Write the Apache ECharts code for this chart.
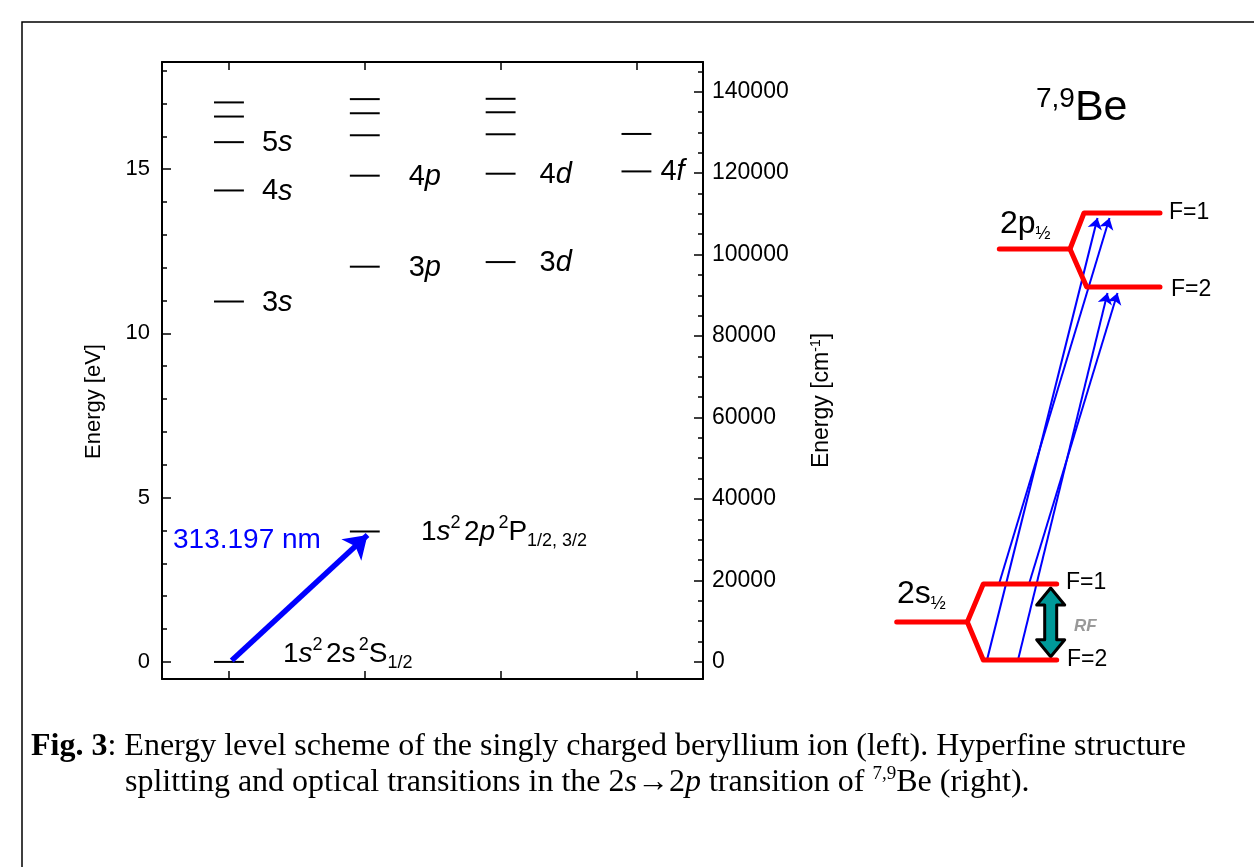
<!DOCTYPE html>
<html>
<head>
<meta charset="utf-8">
<script src="https://cdn.jsdelivr.net/npm/echarts@6/dist/echarts.min.js"></script>
<style>
  html, body {margin: 0; padding: 0; background: #fff;}
  #chart {width: 1254px; height: 867px;}
</style>
</head>
<body>
<div id="chart"></div>
<script>
// level energies (eV) per column
const sLevels = [17.03, 16.60, 15.82, 14.35, 10.97, 0]
const sLabels = ['', '', '5', '4', '3', '']
const pLevels = [17.13, 16.70, 16.03, 14.80, 12.03, 3.97]
const pLabels = ['', '', '', '4', '3', '']
const dLevels = [17.14, 16.73, 16.06, 14.86, 12.17]
const dLabels = ['', '', '', '4', '3']
const fLevels = [16.07, 14.93]
const fLabels = ['', '4']
const columns = ['s', 'p', 'd', 'f']

// 2s -> 2p transition arrow (column, eV)
const laserStart = [1.02, 0.04]
const laserEnd = [2.02, 3.86]

// axis ranges and ticks
const eVmin = -0.52
const eVmax = 18.26
const cmPerEv = 8065.54
const eVLabels = [0, 5, 10, 15]
const cmLabels = [0, 20000, 40000, 60000, 80000, 100000, 120000, 140000]

// hyperfine scheme, schematic units
const s2Stem = [[1.67, 5.8], [8.73, 5.8]]
const s2Fork = [[17.67, 9.6], [10.33, 9.6], [8.73, 5.8], [10.33, 2.0], [17.67, 2.0]]
const p2Stem = [[11.93, 43.1], [19.0, 43.1]]
const p2Fork = [[28.0, 46.7], [20.4, 46.7], [19.0, 43.1], [20.67, 39.3], [28.0, 39.3]]
const transitions = [
  [[10.7, 2.0], [21.75, 46.2]],
  [[11.9, 9.6], [22.95, 46.2]],
  [[13.8, 2.0], [22.75, 38.7]],
  [[14.9, 9.6], [23.75, 38.7]]
]
const rfArrow = [[17.07, 2.33, 9.2]]

const SANS = '"Liberation Sans", Arial, sans-serif'
const SERIF = '"Liberation Serif", "Times New Roman", serif'

let levelData = []
let levelText = []
const addColumn = (col, levels, labels) => {
  for (let i = 0; i < levels.length; i++) {
    levelData.push([col, levels[i]])
    levelText.push(labels[i])
  }
}
addColumn(1, sLevels, sLabels)
addColumn(2, pLevels, pLabels)
addColumn(3, dLevels, dLabels)
addColumn(4, fLevels, fLabels)

const range = (a, b, step) => {
  let out = []
  for (let v = a; v <= b; v += step) out.push(v)
  return out
}

const labelGap = [18, 29, 24, 9]
const halfWidth = 0.11

const renderLevel = (params, api) => {
  const col = api.value(0)
  const e = api.value(1)
  const p1 = api.coord([col - halfWidth, e])
  const p2 = api.coord([col + halfWidth, e])
  let children = [{
    type: 'line',
    shape: {x1: p1[0], y1: p1[1], x2: p2[0], y2: p2[1]},
    style: {stroke: '#000', lineWidth: 2}
  }]
  const num = levelText[params.dataIndex]
  if (num) {
    children.push({
      type: 'text',
      x: p2[0] + labelGap[col - 1],
      y: p2[1] + 1,
      style: {
        text: '{n|' + num + '}{i|' + columns[col - 1] + '}',
        verticalAlign: 'middle',
        rich: {
          n: {fontSize: 29, fontFamily: SANS, fill: '#000'},
          i: {fontSize: 29, fontFamily: SANS, fontStyle: 'italic', fill: '#000'}
        }
      }
    })
  }
  return {type: 'group', children: children}
}

const renderRf = (params, api) => {
  const top = api.coord([api.value(0), api.value(2)])
  const bot = api.coord([api.value(0), api.value(1)])
  const cx = top[0], ty = top[1], by = bot[1]
  const hh = 17, hw = 14, sw = 6
  return {
    type: 'polygon',
    shape: {points: [
      [cx, ty], [cx + hw, ty + hh], [cx + sw, ty + hh], [cx + sw, by - hh], [cx + hw, by - hh],
      [cx, by], [cx - hw, by - hh], [cx - sw, by - hh], [cx - sw, ty + hh], [cx - hw, ty + hh]
    ]},
    style: {fill: '#009999', stroke: '#000', lineWidth: 3, lineJoin: 'round'}
  }
}

const frameLine = {onZero: false, lineStyle: {color: '#000', width: 2}}
const tickStyle = {color: '#000', width: 1.5}

let chart = echarts.init(document.getElementById('chart'))

const redLine = (data) => ({
  type: 'line',
  xAxisIndex: 2,
  yAxisIndex: 4,
  data: data,
  symbol: 'none',
  silent: true,
  lineStyle: {color: '#ff0000', width: 5, cap: 'round', join: 'round'}
})

const termRich = {
  n: {fontSize: 28, fontFamily: SANS, fill: '#000', lineHeight: 36},
  i: {fontSize: 28, fontFamily: SANS, fontStyle: 'italic', fill: '#000', lineHeight: 36},
  sup: {fontSize: 18, fontFamily: SANS, fill: '#000', verticalAlign: 'top', lineHeight: 36, padding: [0, 0, 14, 0]},
  sub: {fontSize: 18, fontFamily: SANS, fill: '#000', verticalAlign: 'bottom', lineHeight: 36, padding: [12, 0, 0, 0]}
}

let option = {
  animation: false,
  backgroundColor: '#fff',
  grid: [
    {left: 162, top: 62, width: 541, height: 617},
    {left: 880, top: 80, width: 360, height: 600}
  ],
  xAxis: [
    {
      gridIndex: 0, type: 'value', min: 0.507, max: 4.49, position: 'bottom',
      axisLine: frameLine,
      axisTick: {inside: true, length: 8, customValues: [1, 2, 3, 4], lineStyle: tickStyle},
      axisLabel: {show: false}, splitLine: {show: false}
    },
    {
      gridIndex: 0, type: 'value', min: 0.507, max: 4.49, position: 'top',
      axisLine: frameLine,
      axisTick: {inside: true, length: 8, customValues: [1, 2, 3, 4], lineStyle: tickStyle},
      axisLabel: {show: false}, splitLine: {show: false}
    },
    {gridIndex: 1, type: 'value', min: 0, max: 36, show: false}
  ],
  yAxis: [
    {
      gridIndex: 0, type: 'value', min: eVmin, max: eVmax, position: 'left',
      axisLine: frameLine,
      axisTick: {inside: true, length: 5, customValues: range(0, 18, 1), lineStyle: tickStyle},
      axisLabel: {customValues: eVLabels, fontSize: 22, fontFamily: SANS, color: '#000', margin: 12},
      splitLine: {show: false},
      name: 'Energy [eV]', nameLocation: 'middle', nameGap: 57,
      nameTextStyle: {fontSize: 22, fontFamily: SANS, color: '#000', padding: [0, 62, 0, 0]}
    },
    {
      gridIndex: 0, type: 'value', min: eVmin, max: eVmax, position: 'left',
      axisLine: {show: false},
      axisTick: {inside: true, length: 9, customValues: eVLabels, lineStyle: tickStyle},
      axisLabel: {show: false}, splitLine: {show: false}
    },
    {
      gridIndex: 0, type: 'value', min: eVmin * cmPerEv, max: eVmax * cmPerEv, position: 'right',
      axisLine: frameLine,
      axisTick: {inside: true, length: 5, customValues: range(0, 145000, 5000), lineStyle: tickStyle},
      axisLabel: {
        customValues: cmLabels, fontSize: 23, fontFamily: SANS, color: '#000', margin: 9,
        formatter: v => String(v)
      },
      splitLine: {show: false},
      name: 'Energy [cm{sup|-1}]', nameLocation: 'middle', nameGap: 106, nameRotate: 90,
      nameTextStyle: {
        fontSize: 23, fontFamily: SANS, color: '#000', padding: [0, 60, 0, 0],
        rich: {sup: {fontSize: 14, fontFamily: SANS, color: '#000', verticalAlign: 'top', padding: [0, 0, 12, 0]}}
      }
    },
    {
      gridIndex: 0, type: 'value', min: eVmin * cmPerEv, max: eVmax * cmPerEv, position: 'right',
      axisLine: {show: false},
      axisTick: {inside: true, length: 9, customValues: cmLabels, lineStyle: tickStyle},
      axisLabel: {show: false}, splitLine: {show: false}
    },
    {gridIndex: 1, type: 'value', min: 0, max: 60, show: false}
  ],
  series: [
    {
      type: 'custom',
      xAxisIndex: 0,
      yAxisIndex: 0,
      data: levelData,
      renderItem: renderLevel,
      silent: true
    },
    {
      type: 'lines',
      coordinateSystem: 'cartesian2d',
      xAxisIndex: 0,
      yAxisIndex: 0,
      symbol: ['none', 'arrow'],
      symbolSize: [20, 22],
      lineStyle: {color: '#0000ff', width: 5.5, opacity: 1, curveness: 0},
      data: [{coords: [laserStart, laserEnd]}],
      silent: true
    },
    redLine(s2Stem),
    redLine(s2Fork),
    redLine(p2Stem),
    redLine(p2Fork),
    {
      type: 'lines',
      coordinateSystem: 'cartesian2d',
      xAxisIndex: 2,
      yAxisIndex: 4,
      symbol: ['none', 'arrow'],
      symbolSize: [7, 11],
      lineStyle: {color: '#0000ff', width: 2, opacity: 1, curveness: 0},
      data: transitions.map(t => ({coords: t})),
      silent: true
    },
    {
      type: 'custom',
      xAxisIndex: 2,
      yAxisIndex: 4,
      data: rfArrow,
      renderItem: renderRf,
      silent: true
    }
  ],
  graphic: [
    {
      type: 'rect', shape: {x: 22, y: 22, width: 1260, height: 880},
      style: {fill: 'none', stroke: '#000', lineWidth: 1.5}, silent: true
    },
    {
      type: 'text', x: 173, y: 540,
      style: {text: '313.197 nm', fontSize: 28, fontFamily: SANS, fill: '#0000ff', verticalAlign: 'middle'}
    },
    {
      type: 'text', x: 421, y: 532,
      style: {
        text: '{n|1}{i|s}{sup|2} {n|2}{i|p} {sup|2}{n|P}{sub|1/2, 3/2}',
        verticalAlign: 'middle',
        rich: termRich
      }
    },
    {
      type: 'text', x: 283, y: 654,
      style: {
        text: '{n|1}{i|s}{sup|2} {n|2s} {sup|2}{n|S}{sub|1/2}',
        verticalAlign: 'middle',
        rich: termRich
      }
    },
    {
      type: 'text', x: 1036, y: 108,
      style: {
        text: '{sup|7,9}{big|Be}',
        verticalAlign: 'middle',
        rich: {
          big: {fontSize: 43, fontFamily: SANS, fill: '#000', lineHeight: 46},
          sup: {fontSize: 28, fontFamily: SANS, fill: '#000', verticalAlign: 'top', lineHeight: 46}
        }
      }
    },
    {
      type: 'text', x: 1000, y: 224,
      style: {
        text: '{n|2p}{sub|½}',
        verticalAlign: 'middle',
        rich: {
          n: {fontSize: 32, fontFamily: SANS, fill: '#000', lineHeight: 38},
          sub: {fontSize: 18, fontFamily: SANS, fill: '#000', verticalAlign: 'bottom', lineHeight: 38}
        }
      }
    },
    {
      type: 'text', x: 897, y: 594,
      style: {
        text: '{n|2s}{sub|½}',
        verticalAlign: 'middle',
        rich: {
          n: {fontSize: 32, fontFamily: SANS, fill: '#000', lineHeight: 38},
          sub: {fontSize: 18, fontFamily: SANS, fill: '#000', verticalAlign: 'bottom', lineHeight: 38}
        }
      }
    },
    {type: 'text', x: 1169, y: 213, style: {text: 'F=1', fontSize: 23, fontFamily: SANS, fill: '#000', verticalAlign: 'middle'}},
    {type: 'text', x: 1171, y: 290, style: {text: 'F=2', fontSize: 23, fontFamily: SANS, fill: '#000', verticalAlign: 'middle'}},
    {type: 'text', x: 1066, y: 583, style: {text: 'F=1', fontSize: 23, fontFamily: SANS, fill: '#000', verticalAlign: 'middle'}},
    {type: 'text', x: 1067, y: 660, style: {text: 'F=2', fontSize: 23, fontFamily: SANS, fill: '#000', verticalAlign: 'middle'}},
    {
      type: 'text', x: 1074, y: 626,
      style: {text: 'RF', fontSize: 17, fontFamily: SANS, fontStyle: 'italic', fontWeight: 'bold', fill: '#999999', verticalAlign: 'middle'}
    },
    {
      type: 'text', x: 31, y: 747,
      style: {
        text: '{b|Fig. 3}{r|: Energy level scheme of the singly charged beryllium ion (left). Hyperfine structure}',
        verticalAlign: 'middle',
        rich: {
          b: {fontSize: 32, fontFamily: SERIF, fontWeight: 'bold', fill: '#000'},
          r: {fontSize: 32, fontFamily: SERIF, fill: '#000'}
        }
      }
    },
    {
      type: 'text', x: 125, y: 783,
      style: {
        text: '{r|splitting and optical transitions in the 2}{i|s}{r|→2}{i|p}{r| transition of }{sup|7,9}{r|Be (right).}',
        verticalAlign: 'middle',
        rich: {
          r: {fontSize: 32, fontFamily: SERIF, fill: '#000', lineHeight: 36},
          i: {fontSize: 32, fontFamily: SERIF, fontStyle: 'italic', fill: '#000', lineHeight: 36},
          sup: {fontSize: 19, fontFamily: SERIF, fill: '#000', verticalAlign: 'top', lineHeight: 36}
        }
      }
    }
  ]
}

chart.setOption(option)
</script>
</body>
</html>
